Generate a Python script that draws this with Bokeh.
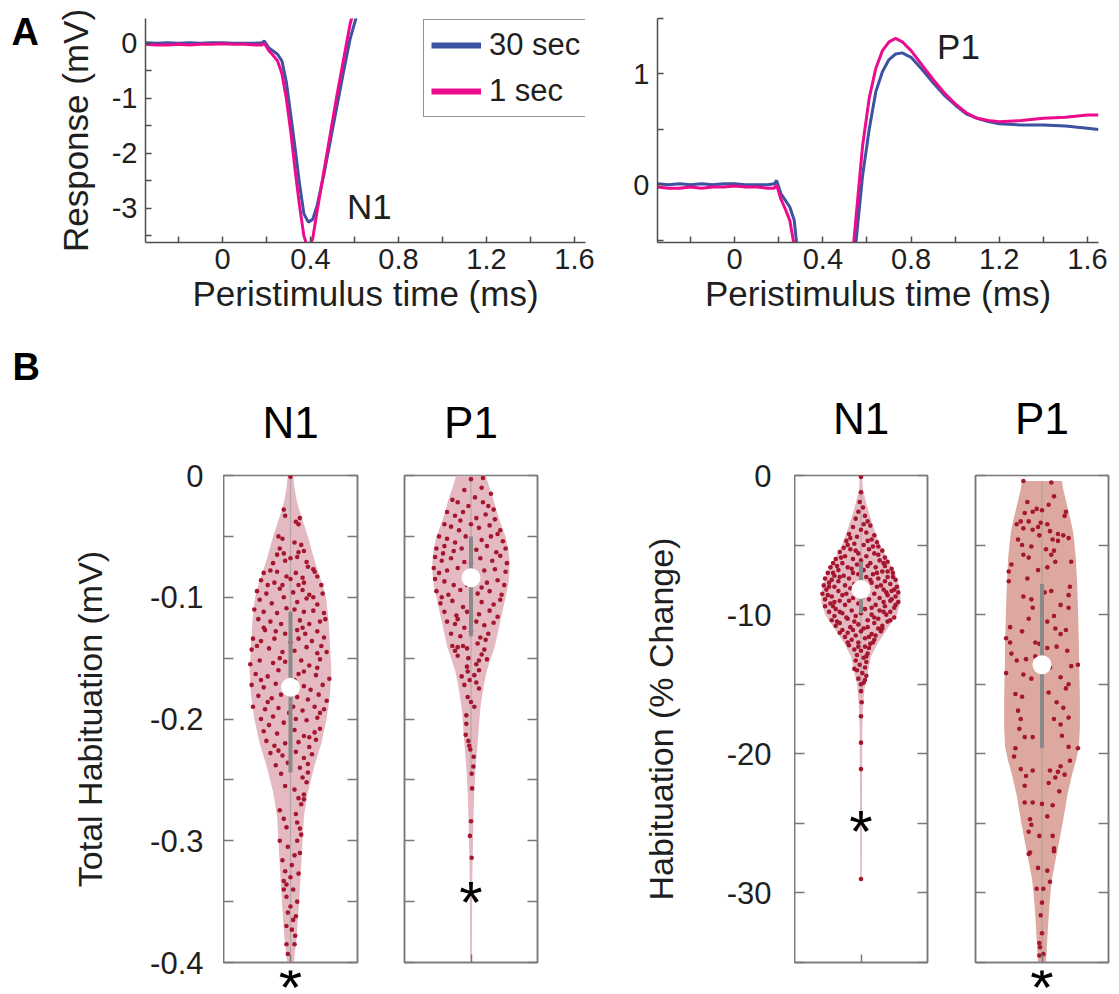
from bokeh.plotting import figure
from bokeh.models import Range1d, FixedTicker, LinearAxis, Label, Legend, LegendItem, ColumnDataSource
from bokeh.layouts import row, column
from bokeh.embed import file_html
from bokeh.resources import INLINE

FONT = "Liberation Sans"
BLUE = "#3D52A1"
MAGENTA = "#EC0B8D"
DOT = "#A5162F"
FILL_PINK = "#E4B9C1"
FILL_SALMON = "#DCA89F"
IQR_GRAY = "#8A8A8A"
AX_A = "#4d4d4d"
AX_B = "#7a7a7a"
TXT = "#1f1f1f"

# ---------------- Panel A data ----------------
time_ms = [-0.35, -0.30, -0.25, -0.20, -0.15, -0.10, -0.05, 0.00, 0.05, 0.10, 0.15, 0.18, 0.19, 0.21,
           0.23, 0.25, 0.27, 0.29, 0.31, 0.33, 0.35, 0.37, 0.39, 0.41, 0.43, 0.46, 0.49, 0.52, 0.55,
           0.58, 0.61, 0.64, 0.67, 0.70, 0.73, 0.76, 0.80, 0.85, 0.90, 0.95, 1.00, 1.05, 1.10, 1.15,
           1.20, 1.30, 1.40, 1.50, 1.60, 1.65]
resp_30sec = [0.01, 0.0, 0.01, 0.0, 0.01, 0.0, 0.01, 0.01, 0.0, 0.0, 0.0, 0.01, 0.04, -0.08,
              -0.14, -0.20, -0.32, -0.70, -1.30, -1.90, -2.55, -3.10, -3.25, -3.20, -2.95, -2.40, -1.78, -1.15, -0.52,
              0.08, 0.50, 0.84, 1.02, 1.13, 1.18, 1.19, 1.15, 1.04, 0.92, 0.81, 0.72, 0.64, 0.60, 0.57,
              0.55, 0.54, 0.54, 0.53, 0.51, 0.50]
resp_1sec = [-0.02, -0.03, -0.03, -0.02, -0.03, -0.02, -0.02, -0.01, -0.02, -0.02, -0.03, -0.03, 0.0, -0.13,
             -0.22, -0.32, -0.55, -1.00, -1.60, -2.30, -2.95, -3.50, -3.75, -3.55, -3.05, -2.35, -1.65, -0.95, -0.30,
             0.35, 0.78, 1.05, 1.21, 1.29, 1.32, 1.29, 1.21, 1.08, 0.95, 0.83, 0.73, 0.65, 0.60, 0.58,
             0.57, 0.58, 0.60, 0.61, 0.63, 0.63]
legend_labels = ["30 sec", "1 sec"]
a_xrange = (-0.35, 1.65)
a_xticks = [0, 0.4, 0.8, 1.2, 1.6]
a_xtick_labels = ["0", "0.4", "0.8", "1.2", "1.6"]
a_xminor = [-0.2, 0.2, 0.6, 1.0, 1.4]
a1_yrange = (-3.62, 0.45)
a1_yticks = [-3, -2, -1, 0]
a1_ytick_labels = ["-3", "-2", "-1", "0"]
a1_yminor = [-3.5, -2.5, -1.5, -0.5]
a2_yrange = (-0.52, 1.5)
a2_yticks = [0, 1]
a2_ytick_labels = ["0", "1"]
a2_yminor = [-0.5, 0.5, 1.5]
peak_names = ["N1", "P1"]
peak_label_x = [0.668, 1.015]
peak_label_y = [-2.96, 1.243]

# ---------------- Panel B data ----------------
violin_pos = 1.0
mv_range = (-0.4, 0.0)
mv_ticks = [-0.4, -0.3, -0.2, -0.1, 0.0]
mv_tick_labels = ["-0.4", "-0.3", "-0.2", "-0.1", "0"]
mv_minor = [-0.35, -0.25, -0.15, -0.05]
pct_range = (-35.0, 0.0)
pct_ticks = [-30, -20, -10, 0]
pct_tick_labels = ["-30", "-20", "-10", "0"]
pct_minor = [-35, -25, -15, -5]

# N1, total habituation (mV)
n1_mv_outline_y = [0.0, -0.01, -0.02, -0.03, -0.04, -0.05, -0.06, -0.07, -0.08, -0.09, -0.10, -0.12, -0.14,
                   -0.16, -0.18, -0.20, -0.22, -0.24, -0.26, -0.28, -0.30, -0.32, -0.34, -0.36, -0.38, -0.40]
n1_mv_outline_w = [0.02, 0.03, 0.045, 0.07, 0.10, 0.13, 0.155, 0.18, 0.21, 0.24, 0.265, 0.285, 0.295,
                   0.305, 0.295, 0.27, 0.23, 0.175, 0.13, 0.10, 0.09, 0.08, 0.07, 0.058, 0.045, 0.025]
n1_mv_points = [
    (0.0, -0.001), (-0.05, -0.028), (-0.04, -0.033), (0.04, -0.038), (0.07, -0.035), (0.06, -0.04),
    (-0.09, -0.05), (-0.06, -0.052), (0.03, -0.055), (0.08, -0.057), (-0.08, -0.06), (-0.05, -0.064),
    (0.06, -0.063), (0.1, -0.062), (0.05, -0.067), (-0.13, -0.072), (-0.04, -0.07), (0.0, -0.068),
    (0.12, -0.071), (0.17, -0.077), (0.18, -0.079), (-0.2, -0.08), (-0.15, -0.078), (-0.1, -0.079),
    (-0.03, -0.083), (0.04, -0.08), (0.09, -0.084), (0.2, -0.083), (-0.22, -0.086), (-0.12, -0.088),
    (-0.06, -0.09), (0.0, -0.085), (0.06, -0.09), (0.1, -0.088), (0.23, -0.09), (-0.25, -0.095),
    (-0.18, -0.097), (-0.08, -0.093), (0.02, -0.096), (0.09, -0.094), (0.14, -0.098), (0.24, -0.097),
    (-0.23, -0.102), (-0.14, -0.105), (-0.05, -0.1), (0.05, -0.104), (0.12, -0.101), (0.2, -0.106),
    (-0.27, -0.11), (-0.2, -0.112), (-0.1, -0.113), (-0.03, -0.109), (0.03, -0.11), (0.1, -0.112),
    (0.17, -0.111), (0.25, -0.113), (-0.24, -0.118), (-0.15, -0.12), (-0.07, -0.122), (0.07, -0.119),
    (0.14, -0.122), (0.22, -0.12), (0.26, -0.118), (-0.19, -0.127), (-0.11, -0.128), (-0.04, -0.13),
    (0.05, -0.127), (0.11, -0.13), (0.2, -0.128), (-0.28, -0.134), (-0.22, -0.136), (-0.12, -0.134),
    (0.0, -0.137), (0.06, -0.134), (0.16, -0.136), (0.25, -0.133), (-0.29, -0.143), (-0.16, -0.142),
    (-0.06, -0.145), (0.03, -0.144), (0.12, -0.141), (0.2, -0.146), (0.27, -0.145), (-0.3, -0.155),
    (-0.23, -0.152), (-0.13, -0.154), (-0.04, -0.153), (0.08, -0.152), (0.14, -0.156), (0.22, -0.151),
    (-0.26, -0.163), (-0.17, -0.165), (-0.09, -0.16), (0.06, -0.163), (0.1, -0.161), (0.19, -0.164),
    (0.29, -0.167), (-0.29, -0.172), (-0.2, -0.174), (-0.11, -0.171), (0.1, -0.173), (0.15, -0.176),
    (0.24, -0.172), (-0.24, -0.181), (-0.14, -0.183), (-0.07, -0.18), (0.05, -0.182), (0.13, -0.184),
    (0.21, -0.18), (0.27, -0.185), (-0.28, -0.19), (-0.19, -0.192), (-0.09, -0.191), (0.02, -0.19),
    (0.09, -0.193), (0.18, -0.19), (0.25, -0.192), (-0.22, -0.2), (-0.13, -0.198), (-0.05, -0.203),
    (0.04, -0.2), (0.12, -0.201), (0.2, -0.199), (-0.2, -0.21), (-0.1, -0.212), (0.03, -0.209),
    (0.1, -0.214), (0.18, -0.211), (0.22, -0.208), (-0.18, -0.218), (-0.12, -0.222), (-0.04, -0.22),
    (0.06, -0.219), (0.14, -0.223), (0.19, -0.217), (-0.15, -0.228), (-0.06, -0.23), (0.04, -0.227),
    (0.1, -0.232), (0.16, -0.229), (-0.11, -0.238), (-0.02, -0.236), (0.07, -0.24), (0.13, -0.237),
    (0.09, -0.248), (0.12, -0.252), (-0.04, -0.255), (0.03, -0.258), (0.1, -0.262), (0.1, -0.266),
    (0.08, -0.27), (-0.08, -0.275), (0.04, -0.278), (0.05, -0.285), (-0.03, -0.289), (0.07, -0.29),
    (0.08, -0.295), (-0.08, -0.3), (0.05, -0.3), (-0.02, -0.305), (0.07, -0.31), (-0.06, -0.316),
    (0.01, -0.32), (-0.04, -0.325), (0.0, -0.33), (-0.05, -0.333), (-0.03, -0.336), (0.02, -0.34),
    (-0.05, -0.34), (0.05, -0.35), (0.0, -0.354), (-0.02, -0.359), (0.04, -0.362), (0.02, -0.365),
    (-0.03, -0.37), (0.01, -0.373), (0.035, -0.378), (-0.03, -0.385), (-0.02, -0.393),
    (-0.1, -0.065), (0.13, -0.075), (-0.17, -0.09), (0.17, -0.1), (-0.2, -0.125), (0.09, -0.125),
    (-0.25, -0.14), (0.23, -0.14), (-0.08, -0.15), (0.2, -0.158), (-0.22, -0.168), (0.03, -0.168),
    (-0.17, -0.186), (0.22, -0.195), (-0.01, -0.195), (-0.16, -0.205), (0.14, -0.215), (-0.09, -0.226),
    (0.13, -0.244), (-0.07, -0.245), (0.06, -0.265), (-0.05, -0.282), (0.03, -0.312), (0.06, -0.327),
    (-0.03, -0.346), (0.03, -0.385)]
n1_mv_median, n1_mv_q_hi, n1_mv_q_lo = -0.174, -0.112, -0.244
n1_mv_whisk = (0.0, -0.395)

# P1, total habituation (mV)
p1_mv_outline_y = [0.0, -0.01, -0.02, -0.03, -0.04, -0.05, -0.06, -0.07, -0.08, -0.09, -0.10, -0.11, -0.12,
                   -0.13, -0.14, -0.15, -0.16, -0.17, -0.18, -0.19, -0.20, -0.22, -0.24, -0.26, -0.28, -0.30,
                   -0.33, -0.36, -0.40]
p1_mv_outline_w = [0.11, 0.14, 0.17, 0.195, 0.225, 0.26, 0.28, 0.29, 0.29, 0.28, 0.26, 0.24, 0.22,
                   0.20, 0.18, 0.15, 0.12, 0.10, 0.085, 0.072, 0.063, 0.05, 0.035, 0.025, 0.019, 0.015,
                   0.01, 0.008, 0.006]
p1_mv_points = [
    (0.0, -0.003), (0.09, -0.002), (-0.05, -0.012), (0.08, -0.01), (0.15, -0.015), (-0.14, -0.02),
    (-0.1, -0.022), (-0.02, -0.025), (0.09, -0.022), (0.13, -0.025), (0.17, -0.028), (-0.18, -0.03),
    (-0.12, -0.033), (-0.06, -0.03), (0.04, -0.035), (0.11, -0.032), (0.18, -0.036), (-0.2, -0.04),
    (-0.15, -0.042), (-0.09, -0.045), (0.0, -0.04), (0.06, -0.043), (0.14, -0.041), (0.22, -0.045),
    (-0.24, -0.05), (-0.18, -0.052), (-0.12, -0.055), (-0.04, -0.05), (0.08, -0.053), (0.15, -0.05),
    (0.24, -0.054), (-0.26, -0.06), (-0.2, -0.058), (-0.13, -0.062), (-0.07, -0.06), (0.04, -0.061),
    (0.12, -0.058), (0.19, -0.063), (0.26, -0.06), (-0.27, -0.067), (-0.22, -0.07), (-0.15, -0.068),
    (-0.05, -0.071), (0.07, -0.068), (0.16, -0.07), (0.22, -0.066), (0.27, -0.072), (-0.28, -0.076),
    (-0.24, -0.08), (-0.18, -0.078), (-0.1, -0.076), (0.1, -0.078), (0.18, -0.077), (0.26, -0.079),
    (-0.27, -0.085), (-0.2, -0.087), (-0.13, -0.09), (0.12, -0.088), (0.2, -0.086), (0.25, -0.09),
    (-0.26, -0.095), (-0.17, -0.098), (-0.08, -0.094), (0.05, -0.097), (0.14, -0.095), (0.23, -0.098),
    (-0.23, -0.105), (-0.14, -0.103), (-0.06, -0.108), (0.08, -0.104), (0.17, -0.106), (0.22, -0.102),
    (-0.2, -0.112), (-0.11, -0.115), (-0.03, -0.112), (0.06, -0.114), (0.14, -0.111), (0.2, -0.116),
    (-0.18, -0.12), (-0.12, -0.122), (-0.05, -0.125), (0.04, -0.12), (0.1, -0.123), (0.17, -0.121),
    (-0.15, -0.13), (-0.08, -0.132), (0.0, -0.128), (0.07, -0.133), (0.13, -0.13), (-0.14, -0.14),
    (-0.1, -0.141), (-0.06, -0.14), (-0.03, -0.142), (0.05, -0.138), (0.1, -0.143), (-0.1, -0.148),
    (-0.02, -0.15), (0.08, -0.147), (0.12, -0.151), (0.04, -0.155), (-0.03, -0.157), (-0.025, -0.161),
    (0.025, -0.164), (0.06, -0.16), (-0.01, -0.168), (-0.05, -0.172), (0.06, -0.175), (-0.025, -0.182),
    (0.0, -0.186), (0.025, -0.19), (-0.035, -0.197), (-0.035, -0.204), (-0.02, -0.218), (-0.005, -0.225),
    (-0.04, -0.213), (-0.013, -0.222), (0.02, -0.231), (0.018, -0.239), (0.005, -0.245), (0.008, -0.257),
    (0.0, -0.284), (-0.008, -0.296), (0.005, -0.314),
    (0.03, -0.018), (-0.08, -0.037), (0.2, -0.048), (-0.21, -0.064), (0.0, -0.072), (-0.03, -0.09),
    (0.08, -0.092), (-0.22, -0.1), (-0.1, -0.118), (0.11, -0.135), (-0.12, -0.144), (0.06, -0.152),
    (-0.07, -0.165), (0.04, -0.17)]
p1_mv_median, p1_mv_q_hi, p1_mv_q_lo = -0.084, -0.05, -0.132
p1_mv_whisk = (-0.002, -0.245)
p1_mv_star_y = -0.351

# N1, habituation (% change)
n1_pct_outline_y = [0, -1, -2, -3, -4, -5, -6, -7, -8, -9, -10, -11, -12, -13, -14, -15, -16, -17, -18,
                    -20, -22, -25, -29]
n1_pct_outline_w = [0.008, 0.015, 0.04, 0.07, 0.105, 0.143, 0.2, 0.255, 0.29, 0.3, 0.27, 0.2, 0.13,
                    0.075, 0.055, 0.03, 0.02, 0.014, 0.011, 0.009, 0.008, 0.007, 0.006]
n1_pct_points = [
    (0.0, -0.1), (0.0, -1.2), (-0.01, -1.9), (0.015, -2.3), (-0.02, -2.6), (0.03, -2.9), (-0.04, -3.1),
    (0.05, -3.3), (0.02, -3.5), (-0.06, -3.7), (0.07, -3.6), (0.0, -3.9), (0.04, -4.1), (-0.09, -4.2),
    (0.1, -4.3), (-0.03, -4.4), (0.08, -4.6), (-0.11, -4.7), (0.12, -4.8), (-0.05, -4.9), (0.02, -5.0),
    (0.13, -5.1), (-0.13, -5.2), (0.06, -5.3), (-0.08, -5.3), (0.16, -5.4), (-0.16, -5.5), (-0.02, -5.6),
    (0.1, -5.6), (-0.12, -5.8), (0.04, -5.8), (0.18, -5.9), (-0.19, -6.0), (-0.06, -6.0), (0.14, -6.1),
    (0.2, -6.2), (-0.21, -6.3), (-0.14, -6.3), (0.07, -6.3), (-0.03, -6.4), (0.18, -6.5), (-0.23, -6.6),
    (-0.1, -6.6), (0.11, -6.6), (0.23, -6.7), (-0.17, -6.8), (0.02, -6.8), (0.16, -6.9), (-0.25, -7.0),
    (-0.06, -7.0), (0.24, -7.0), (0.09, -7.1), (-0.2, -7.2), (-0.13, -7.2), (0.2, -7.3), (0.04, -7.3),
    (-0.27, -7.4), (-0.09, -7.4), (0.13, -7.4), (0.26, -7.5), (-0.17, -7.6), (0.0, -7.6), (0.18, -7.6),
    (-0.24, -7.7), (0.08, -7.7), (-0.28, -7.9), (-0.12, -7.9), (0.22, -7.8), (0.27, -8.0), (-0.2, -8.0),
    (0.12, -8.0), (-0.26, -8.2), (0.17, -8.2), (0.23, -8.3), (-0.17, -8.3), (0.28, -8.4), (-0.29, -8.5),
    (-0.11, -8.5), (0.1, -8.5), (0.2, -8.6), (-0.22, -8.7), (0.26, -8.7), (-0.06, -8.8), (0.14, -8.8),
    (-0.27, -8.9), (0.06, -8.9), (-0.16, -9.0), (0.22, -9.0), (0.28, -9.1), (-0.23, -9.2), (-0.02, -9.2),
    (0.11, -9.3), (-0.12, -9.3), (0.18, -9.4), (-0.27, -9.4), (0.25, -9.5), (-0.19, -9.6), (0.03, -9.6),
    (-0.07, -9.7), (0.14, -9.7), (0.22, -9.8), (-0.24, -9.8), (-0.14, -9.9), (0.08, -10.0), (0.19, -10.0),
    (-0.2, -10.1), (-0.04, -10.1), (0.25, -10.2), (0.13, -10.3), (-0.1, -10.3), (-0.22, -10.4),
    (0.05, -10.4), (0.2, -10.5), (-0.16, -10.6), (0.1, -10.6), (-0.02, -10.7), (0.16, -10.8),
    (-0.19, -10.8), (-0.08, -10.9), (0.05, -10.9), (0.13, -11.0), (-0.14, -11.1), (0.0, -11.2),
    (0.15, -11.2), (-0.1, -11.3), (0.08, -11.4), (-0.04, -11.5), (0.11, -11.5), (-0.12, -11.6),
    (0.03, -11.7), (0.1, -11.8), (-0.07, -11.8), (-0.02, -12.0), (0.07, -12.1), (-0.09, -12.2),
    (0.03, -12.3), (0.06, -12.4), (-0.05, -12.5), (0.0, -12.6), (0.05, -12.8), (-0.03, -12.9),
    (0.02, -13.1), (-0.04, -13.3), (0.04, -13.4), (-0.01, -13.6), (0.03, -13.8), (-0.03, -14.0),
    (0.01, -14.2), (0.04, -14.4), (-0.02, -14.6), (0.02, -14.9), (0.0, -15.5), (0.005, -16.3),
    (0.0, -17.3), (0.0, -19.2), (0.0, -21.1), (0.0, -29.0),
    (-0.08, -4.5), (0.05, -4.7), (-0.1, -5.0), (0.09, -5.1), (-0.04, -5.4), (0.13, -5.7), (-0.15, -5.9),
    (0.0, -6.1), (0.17, -6.3), (-0.18, -6.5), (0.05, -6.5), (-0.07, -6.7), (0.2, -6.9), (-0.21, -7.0),
    (0.12, -7.0), (-0.02, -7.1), (-0.16, -7.3), (0.24, -7.3), (0.07, -7.5), (-0.22, -7.5), (-0.05, -7.8),
    (0.15, -7.9), (0.25, -8.2), (-0.24, -8.0), (0.04, -8.1), (-0.08, -8.1), (0.19, -8.4), (-0.14, -8.6),
    (-0.25, -8.6), (0.23, -8.9), (0.02, -8.7), (-0.2, -9.1), (0.17, -9.1), (-0.09, -9.0), (0.08, -9.5),
    (-0.21, -9.4), (0.26, -9.3), (-0.16, -9.8), (0.0, -9.9), (0.17, -9.8), (-0.11, -10.2), (0.1, -10.2),
    (0.22, -10.4), (-0.18, -10.5), (-0.05, -10.5), (0.02, -11.0), (0.16, -11.0), (-0.16, -11.3),
    (-0.06, -11.1), (0.06, -11.6), (-0.1, -12.0), (0.09, -12.0), (-0.02, -12.3), (0.04, -13.0),
    (-0.05, -13.9), (0.03, -14.7), (0.0, -15.0)]
n1_pct_median, n1_pct_q_hi, n1_pct_q_lo = -8.2, -6.2, -9.9
n1_pct_whisk = (-1.2, -15.5)
n1_pct_star_y = -25.6

# P1, habituation (% change)
p1_pct_outline_y = [-0.4, -1, -2, -3, -4, -5, -6, -8, -10, -12, -14, -16, -18, -19.5, -20.5, -21.5, -23,
                    -24, -25, -26, -27, -28, -29, -30, -31, -32, -33, -34, -35]
p1_pct_outline_w = [0.15, 0.16, 0.185, 0.21, 0.233, 0.245, 0.255, 0.265, 0.272, 0.277, 0.28, 0.285,
                    0.285, 0.278, 0.255, 0.226, 0.19, 0.173, 0.155, 0.135, 0.115, 0.095, 0.075, 0.064,
                    0.055, 0.048, 0.042, 0.036, 0.03]
p1_pct_points = [
    (-0.14, -0.4), (0.07, -0.5), (0.09, -1.5), (-0.11, -1.9), (0.05, -2.1), (0.0, -2.5), (-0.13, -2.7),
    (-0.07, -2.6), (-0.04, -2.4), (0.18, -2.6), (0.17, -2.9), (-0.16, -3.3), (-0.19, -3.5), (-0.1, -3.3),
    (-0.01, -3.4), (0.04, -3.5), (-0.14, -3.8), (-0.07, -3.9), (-0.03, -3.7), (0.06, -4.0), (0.12, -4.2),
    (0.16, -4.3), (-0.02, -4.3), (0.2, -4.5), (-0.18, -4.6), (0.08, -4.6), (0.12, -4.7), (-0.15, -5.0),
    (-0.08, -5.1), (0.09, -5.4), (0.03, -5.3), (-0.14, -5.7), (-0.1, -5.9), (0.07, -5.7), (0.22, -6.2),
    (-0.23, -6.4), (0.1, -6.2), (0.04, -6.6), (-0.03, -6.8), (-0.25, -6.9), (-0.25, -7.6), (-0.11, -7.4),
    (0.02, -8.4), (0.07, -8.3), (0.2, -8.6), (-0.14, -8.7), (-0.08, -8.9), (0.14, -9.3), (-0.07, -9.5),
    (0.2, -9.5), (0.21, -8.0), (-0.1, -10.3), (-0.24, -10.9), (-0.15, -11.2), (0.09, -10.1), (0.04, -10.5),
    (0.1, -11.0), (0.14, -11.4), (0.18, -11.1), (-0.27, -11.7), (-0.24, -12.0), (-0.05, -12.0),
    (0.04, -12.4), (0.11, -12.3), (-0.02, -12.1), (0.19, -12.6), (-0.23, -12.8), (-0.19, -13.3),
    (-0.12, -13.2), (-0.05, -13.0), (0.22, -13.7), (0.27, -13.6), (-0.27, -14.2), (-0.14, -14.3),
    (0.14, -14.5), (0.06, -13.8), (-0.08, -14.6), (0.18, -15.3), (0.2, -15.0), (-0.2, -15.7),
    (0.05, -15.6), (-0.15, -15.9), (0.11, -16.3), (0.16, -16.7), (-0.18, -16.9), (-0.16, -17.5),
    (0.2, -17.4), (0.09, -17.5), (-0.17, -18.2), (0.14, -17.9), (-0.07, -18.8), (0.15, -18.7),
    (-0.13, -18.8), (-0.2, -19.6), (0.27, -19.6), (-0.21, -20.2), (0.2, -19.5), (0.21, -20.5),
    (-0.16, -21.1), (-0.07, -21.2), (0.06, -21.2), (0.12, -21.3), (0.14, -20.9), (0.1, -21.7),
    (0.17, -21.5), (-0.13, -22.3), (-0.12, -21.6), (0.05, -22.1), (0.13, -22.7), (-0.13, -23.5),
    (-0.07, -23.5), (0.0, -23.6), (0.08, -23.7), (0.04, -24.5), (-0.09, -24.7), (-0.08, -25.1),
    (-0.1, -25.6), (-0.02, -25.9), (0.08, -25.9), (0.09, -26.8), (-0.1, -27.2), (-0.09, -27.1),
    (0.09, -27.0), (-0.03, -28.2), (0.04, -28.4), (0.06, -29.2), (-0.04, -29.7), (0.01, -29.7),
    (0.0, -30.7), (-0.01, -31.6), (0.0, -32.9), (-0.02, -33.6), (-0.015, -33.9), (-0.02, -34.5),
    (0.01, -34.4)]
p1_pct_median, p1_pct_q_hi, p1_pct_q_lo = -13.6, -7.8, -19.6
p1_pct_whisk = (-0.4, -34.8)

panel_titles = ["N1", "P1", "N1", "P1"]
panel_letters = ["A", "B"]
ylabel_mv = "Total Habituation (mV)"
ylabel_pct = "Habituation (% Change)"

# ---------------- layout geometry (pixels) ----------------
LETTER_W = 50
ROW_A_H = 320
ROW_B_H = 674
TITLE_H = 149          # title strip above the violins
STAR_H = 24            # strip below violins holding significance stars
letter_pos = [(11, 31), (12, 366)]      # left edge, vertical centre of the panel letters
title_centre = [101.5, 101.5, 98.0, 98.0]
star_anchor = 16.5


def style_axis(ax, color, tick_len, label_size, standoff, width=1.5):
    ax.axis_line_color = color
    ax.axis_line_width = width
    ax.major_tick_line_color = color
    ax.minor_tick_line_color = color
    ax.major_tick_line_width = width
    ax.minor_tick_line_width = width
    ax.major_tick_in = tick_len
    ax.major_tick_out = 0
    ax.minor_tick_in = tick_len
    ax.minor_tick_out = 0
    ax.major_label_text_font = FONT
    ax.major_label_text_color = TXT
    ax.major_label_text_font_size = label_size
    ax.major_label_standoff = standoff
    ax.axis_label_text_font = FONT
    ax.axis_label_text_font_style = "normal"
    ax.axis_label_text_color = TXT


def base_figure(**kw):
    p = figure(output_backend="svg", toolbar_location=None, title_location=None, **kw)
    p.grid.visible = False
    p.background_fill_color = "white"
    p.border_fill_color = "white"
    return p


def trace_figure(width, bl, br, bt, yr, yticks, ylabels, yminor, ylabel):
    p = base_figure(width=width, height=ROW_A_H, x_range=Range1d(*a_xrange), y_range=Range1d(*yr),
                    min_border_left=bl, min_border_right=br, min_border_top=bt, min_border_bottom=78)
    p.outline_line_color = None
    p.line(time_ms, resp_30sec, line_color=BLUE, line_width=3)
    p.line(time_ms, resp_1sec, line_color=MAGENTA, line_width=3)
    xa = p.xaxis[0]
    ya = p.yaxis[0]
    xa.ticker = FixedTicker(ticks=a_xticks, minor_ticks=a_xminor)
    xa.major_label_overrides = dict(zip(a_xticks, a_xtick_labels))
    ya.ticker = FixedTicker(ticks=yticks, minor_ticks=yminor)
    ya.major_label_overrides = dict(zip(yticks, ylabels))
    style_axis(xa, AX_A, 6, "29px", 6)
    style_axis(ya, AX_A, 6, "29px", 8)
    xa.axis_label = "Peristimulus time (ms)"
    xa.axis_label_text_font_size = "35px"
    xa.axis_label_standoff = 2
    if ylabel:
        ya.axis_label = ylabel
        ya.axis_label_text_font_size = "35px"
        ya.axis_label_standoff = 14
    return p


# ---- letter column ("A", "B")
total_h = ROW_A_H + ROW_B_H
letters = base_figure(width=LETTER_W, height=total_h, x_range=Range1d(0, LETTER_W),
                      y_range=Range1d(total_h, 0), x_axis_location=None, y_axis_location=None,
                      min_border=0)
letters.outline_line_color = None
for (lx, ly), letter in zip(letter_pos, panel_letters):
    letters.add_layout(Label(x=lx, y=ly, text=letter, text_font=FONT, text_font_style="bold",
                             text_font_size="38px", text_align="left", text_baseline="middle",
                             text_color="black"))

# ---- Panel A left
a1 = trace_figure(600 - LETTER_W, 145 - LETTER_W, 15, 18, a1_yrange, a1_yticks,
                  a1_ytick_labels, a1_yminor, "Response (mV)")
leg_r30 = a1.line(time_ms, resp_30sec, line_color=BLUE, line_width=6, visible=False)
leg_r1 = a1.line(time_ms, resp_1sec, line_color=MAGENTA, line_width=6, visible=False)
legend = Legend(items=[LegendItem(label=legend_labels[0], renderers=[leg_r30]),
                       LegendItem(label=legend_labels[1], renderers=[leg_r1])],
                location=(278, 125), orientation="vertical")
legend.border_line_color = "#262626"
legend.border_line_width = 1.5
legend.background_fill_color = "white"
legend.background_fill_alpha = 1.0
legend.label_text_font = FONT
legend.label_text_font_size = "31px"
legend.label_text_color = TXT
legend.glyph_width = 50
legend.glyph_height = 30
legend.label_height = 30
legend.label_standoff = 8
legend.padding = 7
legend.spacing = 10
legend.margin = 0
legend.click_policy = "none"
a1.add_layout(legend)
a1.add_layout(Label(x=peak_label_x[0], y=peak_label_y[0], text=peak_names[0], text_font=FONT,
                    text_font_size="35px", text_align="center", text_baseline="middle", text_color=TXT))

# ---- Panel A right
a2 = trace_figure(519, 57, 21, 13, a2_yrange, a2_yticks, a2_ytick_labels, a2_yminor, None)
a2.add_layout(Label(x=peak_label_x[1], y=peak_label_y[1], text=peak_names[1], text_font=FONT,
                    text_font_size="35px", text_align="center", text_baseline="middle", text_color=TXT))


def strip_figure(width, height, bl, br):
    p = base_figure(width=width, height=height, x_range=Range1d(0.5, 1.5), y_range=Range1d(height, 0),
                    x_axis_location=None, y_axis_location=None,
                    min_border_left=bl, min_border_right=br, min_border_top=0, min_border_bottom=0)
    p.outline_line_color = None
    return p


def title_figure(width, bl, br, title, yc):
    p = strip_figure(width, TITLE_H, bl, br)
    p.add_layout(Label(x=violin_pos, y=yc, text=title, text_font=FONT, text_font_size="44px",
                       text_align="center", text_baseline="middle", text_color="black"))
    return p


def star_figure(width, bl, br):
    p = strip_figure(width, STAR_H, bl, br)
    p.add_layout(Label(x=violin_pos, y=star_anchor, text="*", text_font=FONT, text_font_size="60px",
                       text_align="center", text_baseline="middle", text_color="black"))
    return p


def axis_figure(width, yr, yticks, ylabels, ylabel, tick_standoff, label_standoff):
    # holds the tick labels and the axis title of a violin panel (frame is 1 px wide)
    p = base_figure(width=width, height=ROW_B_H, x_range=Range1d(0, 1), y_range=Range1d(*yr),
                    x_axis_location=None, min_border_left=width - 1, min_border_right=0,
                    min_border_top=TITLE_H + 6, min_border_bottom=STAR_H + 8)
    p.outline_line_color = None
    ya = p.yaxis[0]
    ya.ticker = FixedTicker(ticks=yticks)
    ya.major_label_overrides = dict(zip(yticks, ylabels))
    style_axis(ya, None, 0, "31px", tick_standoff)
    ya.axis_label = ylabel
    ya.axis_label_text_font_size = "34px"
    ya.axis_label_standoff = label_standoff
    return p


def violin_figure(width, height, bl, br, bb, yr, yticks, yminor,
                  oy, ow, pts, med, q_hi, q_lo, whisk, fill, star_y):
    p = base_figure(width=width, height=height, x_range=Range1d(0.5, 1.5), y_range=Range1d(*yr),
                    min_border_left=bl, min_border_right=br, min_border_top=6, min_border_bottom=bb)
    p.outline_line_color = AX_B
    p.outline_line_width = 1.5
    src = ColumnDataSource(dict(y=oy, x1=[violin_pos - w for w in ow], x2=[violin_pos + w for w in ow]))
    p.harea(x1="x1", x2="x2", y="y", source=src, fill_color=fill, fill_alpha=1.0)
    p.segment(x0=[violin_pos], y0=[whisk[0]], x1=[violin_pos], y1=[whisk[1]],
              line_color="#9a9a9a", line_width=1.2, line_alpha=0.6)
    p.scatter(x=[violin_pos + d for d, _ in pts], y=[v for _, v in pts], size=4.6,
              fill_color=DOT, line_color=None)
    p.segment(x0=[violin_pos], y0=[q_hi], x1=[violin_pos], y1=[q_lo], line_color=IQR_GRAY, line_width=4)
    p.scatter(x=[violin_pos], y=[med], size=19, fill_color="white", line_color=None)

    xa = p.xaxis[0]
    xa.ticker = FixedTicker(ticks=[], minor_ticks=[violin_pos])
    style_axis(xa, AX_B, 8, "10px", 0)
    ya = p.yaxis[0]
    ya.ticker = FixedTicker(ticks=[], minor_ticks=sorted(yticks + yminor))
    style_axis(ya, AX_B, 10, "10px", 0)
    right = LinearAxis(ticker=FixedTicker(ticks=[], minor_ticks=sorted(yticks + yminor)))
    style_axis(right, AX_B, 10, "10px", 0)
    p.add_layout(right, "right")

    if star_y is not None:
        p.add_layout(Label(x=violin_pos, y=star_y, text="*", text_font=FONT, text_font_size="60px",
                           text_align="center", text_baseline="middle", text_color="black"))
    return p


VH_STAR = ROW_B_H - TITLE_H - STAR_H   # violin height when a star strip sits below
VH_FULL = ROW_B_H - TITLE_H            # violin height otherwise

ax_b1 = axis_figure(223 - LETTER_W, mv_range, mv_ticks, mv_tick_labels, ylabel_mv, 19, 38)
vb1 = violin_figure(157, VH_STAR, 0, 23, 8, mv_range, mv_ticks, mv_minor,
                    n1_mv_outline_y, n1_mv_outline_w, n1_mv_points,
                    n1_mv_median, n1_mv_q_hi, n1_mv_q_lo, n1_mv_whisk, FILL_PINK, None)
vb2 = violin_figure(260, VH_FULL, 24, 103, STAR_H + 8, mv_range, mv_ticks, mv_minor,
                    p1_mv_outline_y, p1_mv_outline_w, p1_mv_points,
                    p1_mv_median, p1_mv_q_hi, p1_mv_q_lo, p1_mv_whisk, FILL_PINK, p1_mv_star_y)
ax_b3 = axis_figure(154, pct_range, pct_ticks, pct_tick_labels, ylabel_pct, 23, 44)
vb3 = violin_figure(166, VH_FULL, 0, 33, STAR_H + 8, pct_range, pct_ticks, pct_minor,
                    n1_pct_outline_y, n1_pct_outline_w, n1_pct_points,
                    n1_pct_median, n1_pct_q_hi, n1_pct_q_lo, n1_pct_whisk, FILL_PINK, n1_pct_star_y)
vb4 = violin_figure(159, VH_STAR, 15, 11, 8, pct_range, pct_ticks, pct_minor,
                    p1_pct_outline_y, p1_pct_outline_w, p1_pct_points,
                    p1_pct_median, p1_pct_q_hi, p1_pct_q_lo, p1_pct_whisk, FILL_SALMON, None)

row_b = row(
    ax_b1,
    column(title_figure(157, 0, 23, panel_titles[0], title_centre[0]), vb1, star_figure(157, 0, 23),
           spacing=0),
    column(title_figure(260, 24, 103, panel_titles[1], title_centre[1]), vb2, spacing=0),
    ax_b3,
    column(title_figure(166, 0, 33, panel_titles[2], title_centre[2]), vb3, spacing=0),
    column(title_figure(159, 15, 11, panel_titles[3], title_centre[3]), vb4, star_figure(159, 15, 11),
           spacing=0),
    spacing=0)

right_part = column(row(a1, a2, spacing=0), row_b, spacing=0)
layout = row(letters, right_part, spacing=0)
with open("out.html", "w") as f:
    f.write(file_html(layout, INLINE))
